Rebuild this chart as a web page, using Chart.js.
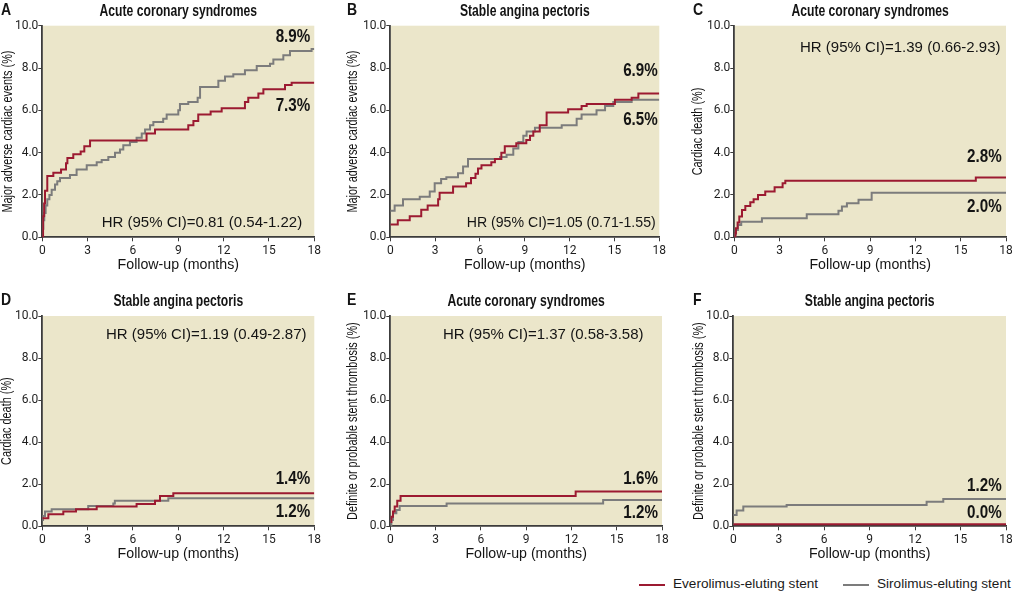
<!DOCTYPE html>
<html><head><meta charset="utf-8">
<script src="https://cdn.jsdelivr.net/npm/chart.js@4.4.1/dist/chart.umd.min.js"></script>
<style>
html,body{margin:0;padding:0;background:#fff;width:1012px;height:591px;overflow:hidden;position:relative;font-family:'Liberation Sans',Arial,sans-serif;}
canvas{position:absolute;}
.leg{position:absolute;top:575px;height:17px;line-height:17px;font-size:13.6px;color:#1a1a1a;white-space:nowrap;}
.leg i{position:absolute;left:0;top:9px;width:26px;height:1.6px;}
.leg span{position:absolute;left:34px;top:0;}
</style></head><body>
<div id="legend"></div>
<script>
// ---------- data ----------
const xTicks = [0, 3, 6, 9, 12, 15, 18];
const yTicks = [0, 2, 4, 6, 8, 10];
const seriesNames = ['Everolimus-eluting stent', 'Sirolimus-eluting stent'];
const seriesColors = ['#9c1a31', '#7c7c7c'];
const panelLetters = ['A', 'B', 'C', 'D', 'E', 'F'];
const panelTitles = ['Acute coronary syndromes', 'Stable angina pectoris', 'Acute coronary syndromes',
                     'Stable angina pectoris', 'Acute coronary syndromes', 'Stable angina pectoris'];
const yTitles = ['Major adverse cardiac events (%)', 'Major adverse cardiac events (%)', 'Cardiac death (%)',
                 'Cardiac death (%)', 'Definite or probable stent thrombosis (%)', 'Definite or probable stent thrombosis (%)'];
const xTitle = 'Follow-up (months)';
const hrTexts = ['HR (95% CI)=0.81 (0.54-1.22)', 'HR (95% CI)=1.05 (0.71-1.55)', 'HR (95% CI)=1.39 (0.66-2.93)',
                 'HR (95% CI)=1.19 (0.49-2.87)', 'HR (95% CI)=1.37 (0.58-3.58)', null];
const endLabelsEes = ['7.3%', '6.9%', '2.8%', '1.4%', '1.6%', '0.0%'];
const endLabelsSes = ['8.9%', '6.5%', '2.0%', '1.2%', '1.2%', '1.2%'];

// A: ACS, MACE
const aEesT = [0, 0.05, 0.12, 0.18, 0.33, 0.73, 1.24, 1.57, 1.66, 2.05, 2.54, 2.78, 3.16, 6.9, 7.46, 9.66, 10.0, 10.32, 11.14, 11.87, 13.41, 13.63, 14.3, 14.63, 16.06, 16.5, 18];
const aEesV = [0, 1.0, 1.6, 2.2, 2.9, 3.05, 3.2, 3.5, 3.75, 3.93, 4.06, 4.3, 4.58, 4.9, 5.1, 5.3, 5.5, 5.8, 5.95, 6.1, 6.4, 6.6, 6.8, 7.0, 7.2, 7.3, 7.3];
const aSesT = [0, 0.07, 0.13, 0.22, 0.33, 0.47, 0.62, 0.84, 0.99, 1.17, 1.83, 2.27, 2.94, 3.6, 3.93, 4.37, 4.81, 5.14, 5.36, 5.8, 6.24, 6.58, 6.8, 7.13, 7.35, 8.0, 8.23, 9.0, 9.11, 9.66, 10.28, 10.44, 11.65, 12.09, 12.64, 13.41, 14.19, 15.07, 15.29, 15.95, 16.39, 17.82, 18];
const aSesV = [0.4, 0.8, 1.15, 1.5, 1.8, 2.0, 2.25, 2.5, 2.65, 2.8, 2.95, 3.2, 3.4, 3.55, 3.65, 3.8, 4.0, 4.15, 4.35, 4.5, 4.7, 4.9, 5.1, 5.3, 5.45, 5.6, 5.8, 6.0, 6.3, 6.4, 6.6, 7.1, 7.4, 7.6, 7.7, 7.9, 8.1, 8.2, 8.4, 8.6, 8.8, 8.9, 8.9];
// B: SAP, MACE
const bEesT = [0, 0.5, 1.3, 2.07, 2.5, 3.2, 3.3, 4.2, 5.07, 5.4, 5.7, 5.87, 6.1, 6.76, 7.0, 7.43, 7.66, 8.43, 9.1, 9.35, 9.57, 10.0, 10.46, 11.9, 12.8, 13.14, 15.03, 16.15, 16.6, 18];
const bEesV = [0.6, 0.8, 1.0, 1.3, 1.5, 1.8, 2.1, 2.4, 2.55, 2.8, 3.0, 3.25, 3.4, 3.55, 3.7, 4.0, 4.3, 4.45, 4.6, 4.8, 5.0, 5.3, 5.9, 6.05, 6.2, 6.3, 6.5, 6.6, 6.8, 6.8];
const bSesT = [0, 0.29, 0.85, 1.97, 2.64, 2.97, 3.4, 3.75, 4.53, 4.87, 5.2, 7.34, 7.78, 8.23, 8.57, 8.9, 9.12, 9.68, 11.47, 12.47, 12.8, 13.8, 14.37, 14.92, 16.15, 18];
const bSesV = [1.25, 1.5, 1.8, 1.92, 2.16, 2.56, 2.75, 2.84, 3.03, 3.35, 3.7, 3.8, 3.9, 4.2, 4.5, 4.8, 5.0, 5.18, 5.3, 5.6, 5.8, 6.0, 6.2, 6.4, 6.5, 6.5];
// C: ACS, cardiac death
const cEesT = [0, 0.07, 0.11, 0.22, 0.33, 0.51, 0.73, 1.06, 1.28, 1.57, 2.05, 2.67, 3.2, 3.38, 16.0, 18];
const cEesV = [0, 0.2, 0.43, 0.7, 0.98, 1.29, 1.48, 1.66, 1.8, 2.0, 2.16, 2.37, 2.56, 2.67, 2.83, 2.83];
const cSesT = [0, 0.07, 0.11, 0.24, 0.46, 1.83, 4.8, 6.9, 7.13, 7.46, 8.23, 9.1, 18];
const cSesV = [0, 0.15, 0.35, 0.58, 0.74, 0.9, 1.09, 1.26, 1.45, 1.61, 1.77, 2.1, 2.1];
// D: SAP, cardiac death
const dEesT = [0, 0.4, 1.39, 2.23, 3.6, 6.24, 7.46, 7.79, 8.67, 18];
const dEesV = [0.38, 0.57, 0.7, 0.81, 0.94, 1.06, 1.22, 1.44, 1.57, 1.57];
const dSesT = [0, 0.05, 0.18, 0.62, 3.04, 4.7, 4.8, 8.34, 18];
const dSesV = [0.3, 0.49, 0.7, 0.81, 0.97, 1.09, 1.22, 1.33, 1.33];
// E: ACS, stent thrombosis
const eEesT = [0, 0.07, 0.18, 0.29, 0.46, 0.68, 12.28, 18];
const eEesV = [0.2, 0.46, 0.7, 0.94, 1.22, 1.44, 1.65, 1.65];
const eSesT = [0, 0.07, 0.18, 0.4, 0.62, 3.73, 14.1, 18];
const eSesV = [0, 0.3, 0.62, 0.78, 0.97, 1.09, 1.25, 1.25];
// F: SAP, stent thrombosis
const fEesT = [0, 18];
const fEesV = [0.1, 0.1];
const fSesT = [0, 0.22, 0.66, 3.52, 12.76, 13.86, 18];
const fSesV = [0.54, 0.75, 0.94, 1.01, 1.17, 1.3, 1.3];

const panelSeries = [
  [[aEesT, aEesV], [aSesT, aSesV]],
  [[bEesT, bEesV], [bSesT, bSesV]],
  [[cEesT, cEesV], [cSesT, cSesV]],
  [[dEesT, dEesV], [dSesT, dSesV]],
  [[eEesT, eEesV], [eSesT, eSesV]],
  [[fEesT, fEesV], [fSesT, fSesV]]
];

// ---------- layout (pixels / label anchors) ----------
const panelBoxes = [
  {l: 42.3,  t: 25.7, r: 314.3, b: 237.3, yw: 42.1, ytX: 8,     hrX: 59.4, hrW: 202, hrY: 0.68, endDx: 4,   labYEes: 6.22, labYSes: 9.49},
  {l: 390.3, t: 25.7, r: 659.3, b: 237.3, yw: 44.8, ytX: 353.3, hrX: 76.4, hrW: 189, hrY: 0.66, endDx: 1.5, labYEes: 7.88, labYSes: 5.56},
  {l: 734.3, t: 25.7, r: 1006,  b: 237.3, yw: 43.8, ytX: 698.3, hrX: 65.7, hrW: 203, hrY: 8.96, endDx: 4.3, labYEes: 3.8,  labYSes: 1.46},
  {l: 42.3,  t: 316,  r: 314.3, b: 526.3, yw: 43.4, ytX: 6.7,   hrX: 63.7, hrW: 206, hrY: 9.1,  endDx: 4,   labYEes: 2.25, labYSes: 0.68},
  {l: 390.3, t: 316,  r: 662,   b: 526.3, yw: 45.4, ytX: 352.7, hrX: 52.7, hrW: 205, hrY: 9.1,  endDx: 4,   labYEes: 2.25, labYSes: 0.66},
  {l: 733.3, t: 316,  r: 1006,  b: 526.3, yw: 41.8, ytX: 699.3, hrX: 0,    hrW: 0,   hrY: 0,    endDx: 4.3, labYEes: 0.63, labYSes: 1.94}
];
const letterX = [1, 347, 693, 1, 347, 693];

const BG = '#ebe6ca';
const AXIS = '#3c3c3c';
const TXT = '#141414';
const REG = "'Liberation Sans',Arial,sans-serif";
const TICKF = "Roboto,'Liberation Sans',sans-serif";
const X_AXIS_H = 36.4, TOP_PAD = 25.7, RIGHT_PAD = 12, BOTTOM_PAD = 12;

function fitText(ctx, text, x, y, factor) {
  const w = ctx.measureText(text).width;
  ctx.fillText(text, x, y, w * factor);
}

const decor = {
  id: 'decor',
  beforeDraw(chart, args, o) {
    const {ctx, chartArea: a} = chart;
    ctx.save();
    ctx.fillStyle = BG;
    ctx.fillRect(a.left, a.top, a.right - a.left, a.bottom - a.top);
    ctx.restore();
  },
  afterDraw(chart, args, o) {
    const i = o.idx, box = panelBoxes[i];
    const {ctx, chartArea: a, scales} = chart;
    const ys = scales.y;
    ctx.save();
    ctx.fillStyle = TXT;
    ctx.textBaseline = 'middle';
    // letter
    ctx.textAlign = 'left';
    ctx.font = 'bold 16.5px ' + REG;
    fitText(ctx, panelLetters[i], letterX[i] - o.cl, a.top - 15.5, 0.85);
    // title
    ctx.textAlign = 'center';
    ctx.font = 'bold 16px ' + REG;
    fitText(ctx, panelTitles[i], (a.left + a.right) / 2, a.top - 14, 0.76);
    // y axis title (rotated)
    ctx.save();
    ctx.translate(box.ytX - o.cl, (a.top + a.bottom) / 2);
    ctx.rotate(-Math.PI / 2);
    ctx.font = '14.5px ' + REG;
    fitText(ctx, yTitles[i], 0, 0, 0.75);
    ctx.restore();
    // HR text
    if (hrTexts[i]) {
      ctx.textAlign = 'left';
      ctx.font = '15px ' + REG;
      ctx.fillText(hrTexts[i], a.left + box.hrX, ys.getPixelForValue(box.hrY), box.hrW);
    }
    // end labels
    ctx.textAlign = 'right';
    ctx.font = 'bold 19px ' + REG;
    fitText(ctx, endLabelsEes[i], a.right - box.endDx, ys.getPixelForValue(box.labYEes), 0.8);
    fitText(ctx, endLabelsSes[i], a.right - box.endDx, ys.getPixelForValue(box.labYSes), 0.8);
    ctx.restore();
  }
};

function makePanel(i) {
  const box = panelBoxes[i];
  const x0 = box.l - box.yw, y0 = box.t - TOP_PAD;
  const cl = Math.floor(x0), ct = Math.floor(y0);
  const cw = Math.ceil(box.r + RIGHT_PAD) - cl;
  const ch = Math.ceil(box.b + X_AXIS_H + BOTTOM_PAD) - ct;
  const cv = document.createElement('canvas');
  cv.width = cw; cv.height = ch;
  cv.style.left = cl + 'px'; cv.style.top = ct + 'px';
  cv.style.width = cw + 'px'; cv.style.height = ch + 'px';
  document.body.appendChild(cv);

  const datasets = panelSeries[i].map((s, k) => ({
    label: seriesNames[k],
    data: s[0].map((t, j) => ({x: t, y: s[1][j]})),
    borderColor: seriesColors[k],
    borderWidth: 2,
    pointRadius: 0,
    stepped: true,
    fill: false,
    order: k === 0 ? 0 : 1
  }));

  new Chart(cv, {
    type: 'line',
    data: {datasets},
    options: {
      responsive: false,
      animation: false,
      events: [],
      layout: {padding: {left: x0 - cl, top: box.t - ct, right: cl + cw - box.r, bottom: ct + ch - box.b - X_AXIS_H}},
      plugins: {legend: {display: false}, tooltip: {enabled: false}, decor: {idx: i, cl: cl}},
      scales: {
        x: {
          type: 'linear', min: 0, max: 18,
          afterBuildTicks: s => { s.ticks = xTicks.map(v => ({value: v})); },
          afterFit: s => { s.height = X_AXIS_H; },
          grid: {display: true, drawOnChartArea: false, drawTicks: true, tickLength: 4, color: AXIS, lineWidth: 1},
          border: {display: true, color: AXIS, width: 1.8},
          ticks: {padding: 2, color: '#1e1e1e', font: {family: TICKF, size: 12}, maxRotation: 0, autoSkip: false},
          title: {display: true, text: xTitle, color: TXT, padding: 0, font: {family: REG, size: 14.2}}
        },
        y: {
          type: 'linear', min: 0, max: 10,
          afterBuildTicks: s => { s.ticks = yTicks.map(v => ({value: v})); },
          afterFit: s => { s.width = box.yw; },
          grid: {display: true, drawOnChartArea: false, drawTicks: true, tickLength: 4, color: AXIS, lineWidth: 1},
          border: {display: true, color: AXIS, width: 1.8},
          ticks: {padding: 0, color: '#1e1e1e', font: {family: TICKF, size: 12}, callback: v => Number(v).toFixed(1)},
          title: {display: false}
        }
      }
    },
    plugins: [decor]
  });
}

for (let i = 0; i < 6; i++) makePanel(i);

// legend
const legendX = [639, 843];
const lg = document.getElementById('legend');
seriesNames.forEach((n, k) => {
  const d = document.createElement('div');
  d.className = 'leg';
  d.style.left = legendX[k] + 'px';
  d.innerHTML = '<i style="background:' + seriesColors[k] + '"></i><span></span>';
  d.querySelector('span').textContent = n;
  lg.appendChild(d);
});
</script>
</body></html>
